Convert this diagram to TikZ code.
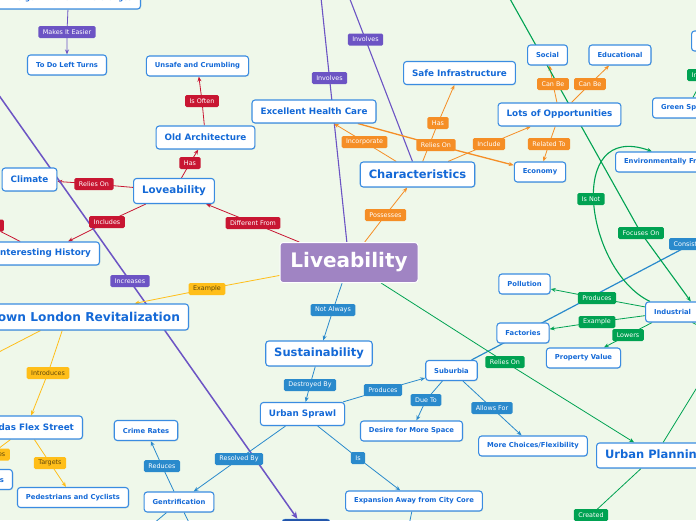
\documentclass[tikz,border=0pt]{standalone}
\usepackage{fontspec}
\setmainfont{DejaVu Sans}
\usetikzlibrary{arrows.meta,shadows}

\definecolor{verdefondo}{RGB}{239,248,234}
\definecolor{bordeazul}{RGB}{58,140,225}
\definecolor{textoazul}{RGB}{20,105,215}
\definecolor{morado}{RGB}{160,132,195}
\definecolor{rojo}{RGB}{200,22,50}
\definecolor{naranja}{RGB}{245,142,38}
\definecolor{violeta}{RGB}{108,84,196}
\definecolor{amarillo}{RGB}{255,190,25}
\definecolor{textoamarillo}{RGB}{95,70,10}
\definecolor{azul}{RGB}{42,138,204}
\definecolor{verde}{RGB}{0,162,82}
\definecolor{marino}{RGB}{35,85,170}

\pgfdeclarelayer{fondo}
\pgfdeclarelayer{lineas}
\pgfsetlayers{fondo,lineas,main}

\tikzset{
  tema/.style={draw=bordeazul, line width=1.1pt, fill=white, rounded corners=3pt,
    text=textoazul, inner xsep=8.5pt, inner ysep=1pt, minimum height=20pt,
    font=\fontsize{6.8}{8}\selectfont\bfseries,
    drop shadow={opacity=0.18, shadow xshift=0.8pt, shadow yshift=-0.8pt}},
  medio/.style={minimum height=23pt, font=\fontsize{8.8}{10}\selectfont\bfseries},
  grande/.style={minimum height=25pt, font=\fontsize{11.5}{13}\selectfont\bfseries},
  central/.style={fill=morado, draw=white, line width=1pt, rounded corners=3pt,
    text=white, minimum width=138pt, minimum height=40pt,
    font=\fontsize{20}{22}\selectfont\bfseries},
  etiqueta/.style={inner xsep=4.5pt, inner ysep=0pt, minimum height=12pt,
    rounded corners=1.5pt, text=white, font=\fontsize{6.4}{7}\selectfont},
  eroja/.style={etiqueta, fill=rojo},
  enaranja/.style={etiqueta, fill=naranja},
  evioleta/.style={etiqueta, fill=violeta},
  eamarilla/.style={etiqueta, fill=amarillo, text=textoamarillo},
  eazul/.style={etiqueta, fill=azul},
  everde/.style={etiqueta, fill=verde},
  lin/.style={line width=0.8pt},
  fl/.style={-{Stealth[length=5pt,width=4pt]}}
}

\begin{document}
\begin{tikzpicture}[x=1pt,y=-1pt]

  % Fondo
  \useasboundingbox (0,0) rectangle (696,520);
  \begin{pgfonlayer}{fondo}
    \fill[verdefondo] (0,0) rectangle (696,520);
  \end{pgfonlayer}
  \clip (0,0) rectangle (696,520);

  % Nodo central
  \node[central] (live) at (349,262.5) {Liveability};

  % Rama roja
  \node[tema, anchor=east] (ddi) at (141,-1) {Divergent Diamond Interchanges};
  \node[evioleta] (mie) at (67,32) {Makes It Easier};
  \node[tema] (tdlt) at (67,65) {To Do Left Turns};
  \node[tema] (uac) at (197.5,66) {Unsafe and Crumbling};
  \node[eroja] (isoften) at (202,101) {Is Often};
  \node[tema, medio] (oldarch) at (205.5,137.5) {Old Architecture};
  \node[eroja] (has1) at (190,163) {Has};
  \node[tema, minimum height=25pt, font=\fontsize{10.3}{12}\selectfont\bfseries] (love) at (174,191) {Loveability};
  \node[tema, medio] (climate) at (29.5,179.5) {Climate};
  \node[eroja] (relon1) at (94,184) {Relies On};
  \node[eroja] (incl1) at (107,222) {Includes};
  \node[eroja, anchor=east, minimum width=30pt] (rstub) at (4,225.5) {};
  \node[tema, medio, anchor=east] (history) at (100,253.5) {Interesting History};
  \node[eroja] (diff) at (253,223) {Different From};

  % Rama violeta
  \coordinate (pstart) at (-14,77);
  \node[evioleta] (incr) at (130,281) {Increases};
  \node[fill=marino, draw=bordeazul, rounded corners=3pt, minimum width=48pt, minimum height=24pt] (bottomnode) at (306,531) {};
  \node[evioleta] (inv1) at (329.5,78) {Involves};
  \node[evioleta] (inv2) at (365.5,39.5) {Involves};
  \coordinate (ptop1) at (320.2,-10);
  \coordinate (ptop2) at (346.4,-10);

  % Rama amarilla
  \node[eamarilla] (exmp) at (207,289) {Example};
  \node[tema, grande, minimum height=26pt, font=\fontsize{12.2}{14}\selectfont\bfseries, anchor=east] (dlr) at (189,317) {Downtown London Revitalization};
  \coordinate (yout) at (-34,369);
  \node[eamarilla] (introd) at (48,373) {Introduces};
  \node[tema, medio, anchor=east] (dfs) at (83,427.5) {Dundas Flex Street};
  \node[eamarilla, anchor=east] (remv) at (10,454.5) {Removes};
  \node[tema, anchor=east] (curbs) at (13,479.5) {Curbs};
  \node[eamarilla] (targ) at (50,463) {Targets};
  \node[tema] (pedc) at (73,497.5) {Pedestrians and Cyclists};

  % Rama azul
  \node[eazul] (notal) at (333,310) {Not Always};
  \node[tema, grande] (sustain) at (319,353.5) {Sustainability};
  \node[eazul] (destr) at (310,385) {Destroyed By};
  \node[tema, medio] (sprawl) at (302.5,414) {Urban Sprawl};
  \node[eazul] (resby) at (239,459) {Resolved By};
  \node[tema] (gentr) at (179,502) {Gentrification};
  \node[eazul] (reduce) at (162,466) {Reduces};
  \node[tema] (crime) at (146,430.5) {Crime Rates};
  \coordinate (gb1) at (140,535);
  \coordinate (gb2) at (195,535);
  \node[eazul] (is) at (358,458) {Is};
  \node[tema] (expan) at (414,501) {Expansion Away from City Core};
  \coordinate (eb) at (407,535);
  \node[eazul] (prod1) at (383,390) {Produces};
  \node[tema] (suburb) at (451.5,370.5) {Suburbia};
  \node[eazul] (dueto) at (426,400) {Due To};
  \node[tema] (desire) at (411.5,431) {Desire for More Space};
  \node[eazul] (allow) at (492,408) {Allows For};
  \node[tema] (morech) at (533,446) {More Choices/Flexibility};
  \node[tema] (fact) at (523,333) {Factories};
  \node[eazul, anchor=west] (consist) at (669,244) {Consists Of};

  % Rama naranja
  \node[enaranja] (poss) at (385.5,215) {Possesses};
  \node[tema, grande] (chars) at (417.5,174.5) {Characteristics};
  \node[enaranja] (incorp) at (364.5,142) {Incorporate};
  \node[tema, medio] (ehc) at (314,111.5) {Excellent Health Care};
  \node[enaranja] (has2) at (438,123) {Has};
  \node[tema, medio] (safe) at (459.5,73) {Safe Infrastructure};
  \node[enaranja] (relon2) at (436,145) {Relies On};
  \node[enaranja] (incl2) at (489,144) {Include};
  \node[tema, medio] (lots) at (559.5,114.5) {Lots of Opportunities};
  \node[enaranja] (relto) at (549,144) {Related To};
  \node[tema] (econ) at (540,172) {Economy};
  \node[enaranja] (canbe1) at (553,84) {Can Be};
  \node[enaranja] (canbe2) at (590,84) {Can Be};
  \node[tema] (social) at (547.5,55) {Social};
  \node[tema] (educ) at (620,55) {Educational};

  % Rama verde
  \coordinate (gtop) at (505,-10);
  \node[everde] (focus) at (641,233) {Focuses On};
  \node[everde] (isnot) at (591,199) {Is Not};
  \node[tema, anchor=west] (envf) at (615,162) {Environmentally Friendly};
  \node[tema, anchor=west] (greensp) at (652,108) {Green Spaces};
  \node[everde, anchor=west] (inlab) at (687,75) {Includes};
  \node[tema, anchor=west, minimum width=60pt] (topr) at (691,41) {};
  \node[tema, anchor=west] (indus) at (645,312) {Industrial};
  \coordinate (gir) at (724.5,339.5);
  \node[tema] (pollu) at (524.5,284) {Pollution};
  \node[everde] (prod2) at (597,298) {Produces};
  \node[everde] (exmp2) at (597,322) {Example};
  \node[everde] (lowers) at (628,335) {Lowers};
  \node[tema] (propv) at (583.5,358) {Property Value};
  \node[everde] (relon3) at (505,362) {Relies On};
  \node[tema, grande, anchor=west] (urbplan) at (596,455.5) {Urban Planning};
  \coordinate (gur) at (720,350);
  \coordinate (gbr) at (722,492);
  \node[everde] (created) at (591,515) {Created};
  \coordinate (gcb) at (565.6,538.8);

  % Conectores
  \begin{pgfonlayer}{lineas}
    \clip (0,0) rectangle (696,520);
    % rojo
    \draw[rojo, lin, fl] (oldarch) -- (isoften.center) -- (uac);
    \draw[rojo, lin, fl] (love) -- (has1.center) -- (oldarch);
    \draw[rojo, lin, fl] (love) -- (relon1.center) -- (climate);
    \draw[rojo, lin, fl] (love) -- (incl1.center) -- (history);
    \draw[rojo, lin] (rstub) -- (history);
    \draw[rojo, lin, fl] (live) -- (diff.center) -- (love);
    % violeta
    \draw[violeta, lin, fl] (ddi) -- (mie.center) -- (tdlt);
    \draw[violeta, line width=1.5pt, -{Stealth[length=7pt,width=6pt]}] (pstart) -- (incr.center) -- (bottomnode);
    \draw[violeta, line width=1.1pt] (live) -- (inv1.center) -- (ptop1);
    \draw[violeta, line width=1.1pt] (chars) -- (inv2.center) -- (ptop2);
    % amarillo
    \draw[amarillo, lin, fl] (live) -- (exmp.center) -- (dlr);
    \draw[amarillo, lin] (dlr) -- (yout);
    \draw[amarillo, lin, fl] (dlr) -- (introd.center) -- (dfs);
    \draw[amarillo, lin, fl] (dfs) -- (remv.center) -- (curbs);
    \draw[amarillo, lin, fl] (dfs) -- (targ.center) -- (pedc);
    % azul
    \draw[azul, lin, fl] (live) -- (notal.center) -- (sustain);
    \draw[azul, lin, fl] (sustain) -- (destr.center) -- (sprawl);
    \draw[azul, lin, fl] (sprawl) -- (resby.center) -- (gentr);
    \draw[azul, lin, fl] (gentr) -- (reduce.center) -- (crime);
    \draw[azul, lin] (gentr) -- (gb1);
    \draw[azul, lin] (gentr) -- (gb2);
    \draw[azul, lin, fl] (sprawl) -- (is.center) -- (expan);
    \draw[azul, lin] (expan) -- (eb);
    \draw[azul, lin, fl] (sprawl) -- (prod1.center) -- (suburb);
    \draw[azul, lin, fl] (suburb) -- (dueto.center) -- (desire);
    \draw[azul, lin, fl] (suburb) -- (allow.center) -- (morech);
    \draw[azul, line width=1.2pt] (consist.center) -- (suburb);
    % naranja
    \draw[naranja, lin, fl] (live) -- (poss.center) -- (chars);
    \draw[naranja, lin, fl] (chars) -- (incorp.center) -- (ehc);
    \draw[naranja, lin, fl] (chars) -- (has2.center) -- (safe);
    \draw[naranja, line width=1.3pt, fl] (ehc) -- (relon2.center) -- (econ);
    \draw[naranja, lin, fl] (chars) -- (incl2.center) -- (lots);
    \draw[naranja, lin, fl] (lots) -- (relto.center) -- (econ);
    \draw[naranja, lin, fl] (lots) -- (canbe1.center) -- (social);
    \draw[naranja, lin, fl] (lots) -- (canbe2.center) -- (educ);
    % verde
    \draw[verde, line width=1.1pt, fl] (gtop) -- (focus.center) -- (indus.30);
    \draw[verde, line width=1.1pt, fl] (indus.155) .. controls (585,270) and (565,120) .. ([xshift=37pt]envf.north west);
    \draw[verde, lin] (inlab.center) -- (greensp);
    \draw[verde, lin, fl] (indus) -- (prod2.center) -- (pollu);
    \draw[verde, lin, fl] (indus) -- (exmp2.center) -- (fact);
    \draw[verde, lin, fl] (indus) -- (lowers.center) -- (propv);
    \draw[verde, lin] (indus) -- (gir);
    \draw[verde, lin, fl] (live) -- (relon3.center) -- (urbplan);
    \draw[verde, lin] (urbplan) -- (gur);
    \draw[verde, lin, fl] (gbr) -- ([xshift=-18pt]urbplan.south east);
    \draw[verde, lin] (urbplan) -- (created.center) -- (gcb);
  \end{pgfonlayer}

\end{tikzpicture}
\end{document}
